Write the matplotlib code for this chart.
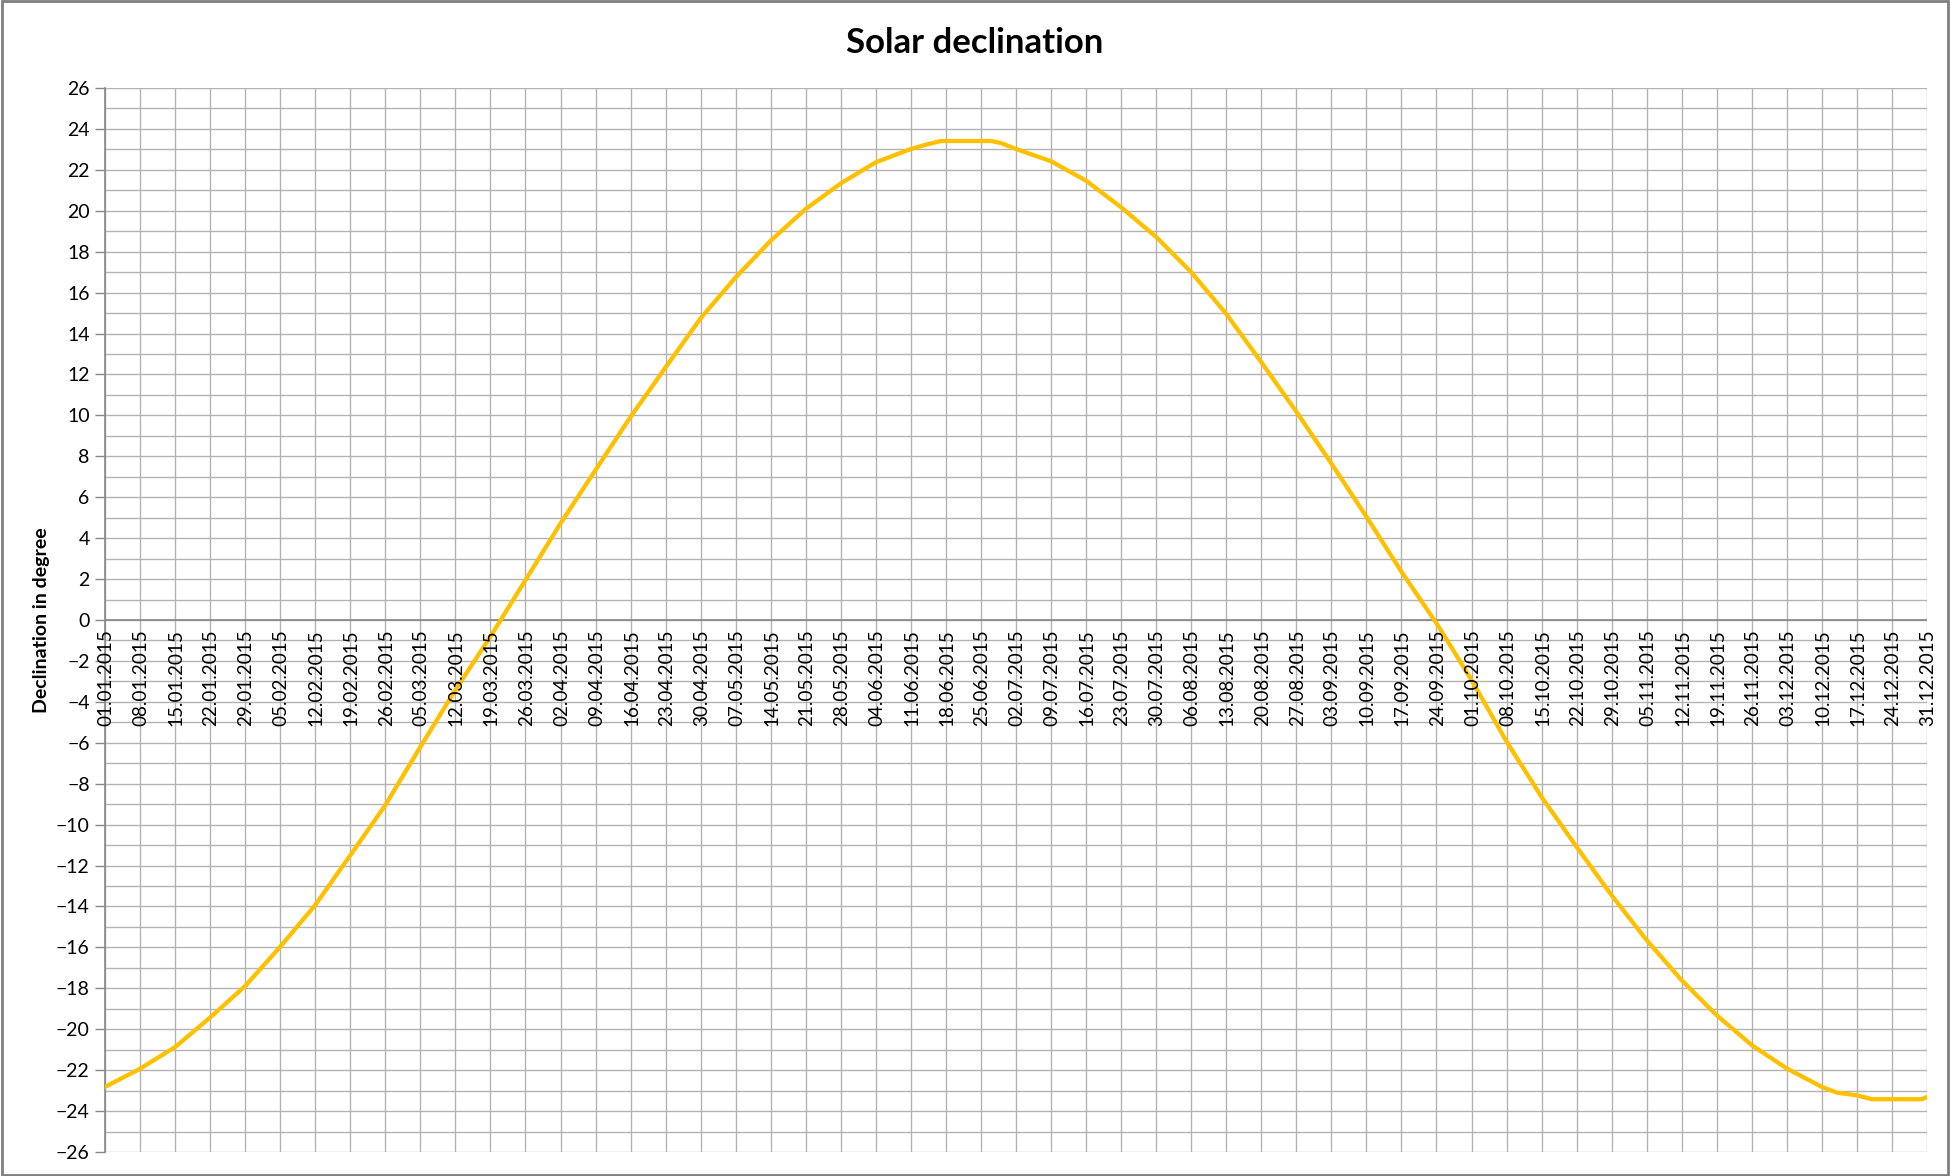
import pandas as pd
import matplotlib
matplotlib.use("Agg")
import matplotlib.pyplot as plt
from matplotlib.patches import Rectangle
from matplotlib.transforms import offset_copy

plt.rcParams['font.family'] = ['Lato', 'DejaVu Sans']

# Werte (Datum, Deklination in Grad)
dates = ["01.01.2015", "08.01.2015", "15.01.2015", "22.01.2015", "29.01.2015",
         "05.02.2015", "12.02.2015", "19.02.2015", "26.02.2015", "05.03.2015",
         "12.03.2015", "19.03.2015", "26.03.2015", "02.04.2015", "09.04.2015",
         "16.04.2015", "23.04.2015", "30.04.2015", "07.05.2015", "14.05.2015",
         "21.05.2015", "28.05.2015", "04.06.2015", "11.06.2015", "14.06.2015",
         "17.06.2015", "25.06.2015", "27.06.2015", "29.06.2015", "02.07.2015",
         "09.07.2015", "16.07.2015", "23.07.2015", "30.07.2015", "06.08.2015",
         "13.08.2015", "20.08.2015", "27.08.2015", "03.09.2015", "10.09.2015",
         "17.09.2015", "24.09.2015", "01.10.2015", "08.10.2015", "15.10.2015",
         "22.10.2015", "29.10.2015", "05.11.2015", "12.11.2015", "19.11.2015",
         "26.11.2015", "03.12.2015", "10.12.2015", "13.12.2015", "17.12.2015",
         "20.12.2015", "30.12.2015", "31.12.2015"]
declination = [-22.82, -21.93, -20.87, -19.43, -17.89,
               -15.97, -13.93, -11.50, -9.05, -6.20,
               -3.42, -0.81, 1.95, 4.72, 7.33,
               9.93, 12.35, 14.75, 16.75, 18.54,
               20.09, 21.34, 22.37, 23.02, 23.23,
               23.41, 23.41, 23.41, 23.31, 23.02,
               22.42, 21.47, 20.17, 18.72, 17.00,
               14.96, 12.60, 10.18, 7.65, 5.05,
               2.36, -0.16, -2.93, -5.94, -8.65,
               -11.09, -13.46, -15.65, -17.61, -19.32,
               -20.78, -21.92, -22.82, -23.10, -23.23,
               -23.42, -23.42, -23.31]

# Beschriftung der x-Achse (woechentlich)
tick_labels = ["01.01.2015", "08.01.2015", "15.01.2015", "22.01.2015", "29.01.2015",
               "05.02.2015", "12.02.2015", "19.02.2015", "26.02.2015", "05.03.2015",
               "12.03.2015", "19.03.2015", "26.03.2015", "02.04.2015", "09.04.2015",
               "16.04.2015", "23.04.2015", "30.04.2015", "07.05.2015", "14.05.2015",
               "21.05.2015", "28.05.2015", "04.06.2015", "11.06.2015", "18.06.2015",
               "25.06.2015", "02.07.2015", "09.07.2015", "16.07.2015", "23.07.2015",
               "30.07.2015", "06.08.2015", "13.08.2015", "20.08.2015", "27.08.2015",
               "03.09.2015", "10.09.2015", "17.09.2015", "24.09.2015", "01.10.2015",
               "08.10.2015", "15.10.2015", "22.10.2015", "29.10.2015", "05.11.2015",
               "12.11.2015", "19.11.2015", "26.11.2015", "03.12.2015", "10.12.2015",
               "17.12.2015", "24.12.2015", "31.12.2015"]
y_ticks = list(range(-26, 27, 2))

start = pd.Timestamp("2015-01-01")
x = (pd.to_datetime(pd.Series(dates), format="%d.%m.%Y") - start).dt.days
x_ticks = (pd.to_datetime(pd.Series(tick_labels), format="%d.%m.%Y") - start).dt.days

fig = plt.figure(figsize=(19.5, 11.76), dpi=100)
ax = fig.add_axes([105 / 1950, 1 - 1152 / 1176, 1822 / 1950, 1064 / 1176])

grid_col = "#B3B3B3"
axis_col = "#868686"

# Gitter
for xt in x_ticks:
    ax.axvline(xt, color=grid_col, lw=1.0, zorder=1)
for yv in range(-26, 27):
    ax.axhline(yv, color=grid_col, lw=1.0, zorder=1)
ax.axhline(0, color=axis_col, lw=1.2, zorder=2)

ax.plot(x, declination, color="#FFC000", lw=3.1, zorder=3,
        solid_joinstyle="round", solid_capstyle="round")

ax.set_xlim(0, 364)
ax.set_ylim(-26, 26)
ax.set_yticks(y_ticks)
ax.set_xticks([])
ax.tick_params(axis="y", length=7, width=1.0, color=axis_col, pad=4, labelsize=14)
for s in ["top", "right", "bottom"]:
    ax.spines[s].set_visible(False)
ax.spines["left"].set_color(axis_col)
ax.spines["left"].set_linewidth(1.2)

# Datumsbeschriftung unter der Nulllinie
trans = offset_copy(ax.transData, fig=fig, x=1, y=-9, units="dots")
for xt, lab in zip(x_ticks, tick_labels):
    ax.text(xt, 0, lab, rotation=90, ha="center", va="top", fontsize=13.6,
            transform=trans, zorder=4)

fig.text(975 / 1950, 1 - 43 / 1176, "Solar declination", ha="center", va="center",
         fontsize=25, fontweight="bold")
fig.text(42 / 1950, 1 - 620 / 1176, "Declination in degree", ha="center", va="center",
         rotation=90, fontsize=14, fontweight="bold")

fig.patches.append(Rectangle((0.001, 0.001), 0.998, 0.998, transform=fig.transFigure,
                             fill=False, edgecolor="#7F7F7F", lw=2))

fig.savefig("out.png", dpi=100, facecolor="white")
